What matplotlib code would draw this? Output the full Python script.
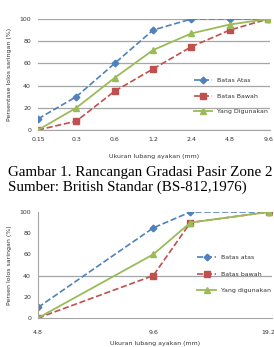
import numpy as np
import matplotlib.pyplot as plt

# Gambar 1 - zona pasir 2
sieve_top = ['0.15', '0.3', '0.6', '1.2', '2.4', '4.8', '9.6']
atas_top = [10, 30, 60, 90, 100, 100, 100]
bawah_top = [0, 8, 35, 55, 75, 90, 100]
pakai_top = [0, 20, 47, 72, 87, 95, 100]

# grafik kerikil
sieve_bot = [4.8, 9.6, 12.0, 19.2]
sieve_bot_labels = ['4.8', '9.6', '', '19.2']
atas_bot = [10, 85, 100, 100]
bawah_bot = [0, 40, 90, 100]
pakai_bot = [0, 60, 90, 100]

BLUE = '#4f81bd'
RED = '#c0504d'
GREEN = '#9bbb59'
GRID = '#a6a6a6'
TXT = '#333333'


def draw_series(ax, x, atas, bawah, pakai, names):
    ax.plot(x, atas, '--D', color=BLUE, lw=1.2, ms=3.4, label=names[0])
    ax.plot(x, bawah, '--s', color=RED, lw=1.2, ms=4.6, label=names[1])
    ax.plot(x, pakai, '-^', color=GREEN, lw=1.3, ms=4.6, label=names[2])


fig = plt.figure(figsize=(2.74, 3.47), dpi=100)

# ---- top chart
ax1 = fig.add_axes([0.1387, 0.6254, 0.8467, 0.3199])
xi = np.arange(len(sieve_top))
draw_series(ax1, xi, atas_top, bawah_top, pakai_top,
            ['Batas Atas', 'Batas Bawah', 'Yang Digunakan'])
ax1.set_xlim(0, 6.05)
ax1.set_ylim(0, 100)
ax1.set_xticks(xi)
ax1.set_xticklabels(sieve_top)
ax1.set_yticks(range(0, 101, 20))
ax1.grid(axis='y', color=GRID, lw=0.9)
ax1.set_axisbelow(True)
for s in ['top', 'right', 'left']:
    ax1.spines[s].set_visible(False)
ax1.spines['bottom'].set_color(GRID)
ax1.tick_params(length=0, labelsize=4.5, colors=TXT, pad=5)
ax1.set_xlabel('Ukuran lubang ayakan (mm)', fontsize=4.5, color=TXT, labelpad=9)
ax1.set_ylabel('Persentase lolos saringan (%)', fontsize=4.5, color=TXT, labelpad=5)
ax1.legend(loc='upper left', bbox_to_anchor=(0.66, 0.49), frameon=False,
           fontsize=4.5, handlelength=3.0, labelspacing=1.6, borderaxespad=0,
           labelcolor=TXT)

# ---- caption
fig.text(0.03, 0.504, 'Gambar 1. Rancangan Gradasi Pasir Zone 2',
         family='Liberation Serif', fontsize=10.85, va='center')
fig.text(0.03, 0.461, 'Sumber: British Standar (BS-812,1976)',
         family='Liberation Serif', fontsize=10.85, va='center')

# ---- bottom chart
ax2 = fig.add_axes([0.1387, 0.0836, 0.854, 0.3055])
draw_series(ax2, sieve_bot, atas_bot, bawah_bot, pakai_bot,
            ['Batas atas', 'Batas bawah', 'Yang digunakan'])
ax2.set_xscale('log', base=2)
ax2.set_xlim(4.8, 19.6)
ax2.set_ylim(0, 100)
ax2.set_xticks(sieve_bot)
ax2.set_xticklabels(sieve_bot_labels)
ax2.minorticks_off()
ax2.set_yticks(range(0, 101, 20))
ax2.axhline(40, color=GRID, lw=0.9, zorder=0)
for s in ['top', 'right']:
    ax2.spines[s].set_visible(False)
ax2.spines['left'].set_color(GRID)
ax2.spines['bottom'].set_color(GRID)
ax2.tick_params(axis='y', length=0, labelsize=4.5, colors=TXT, pad=5)
ax2.tick_params(axis='x', length=0, labelsize=4.5, colors=TXT, pad=9)
ax2.set_xlabel('Ukuran lubang ayakan (mm)', fontsize=4.5, color=TXT, labelpad=4)
ax2.set_ylabel('Persen lolos saringan (%)', fontsize=4.5, color=TXT, labelpad=5)
ax2.legend(loc='upper left', bbox_to_anchor=(0.67, 0.62), frameon=False,
           fontsize=4.5, handlelength=3.0, labelspacing=1.8, borderaxespad=0,
           labelcolor=TXT)

fig.savefig('out.png', dpi=100)
